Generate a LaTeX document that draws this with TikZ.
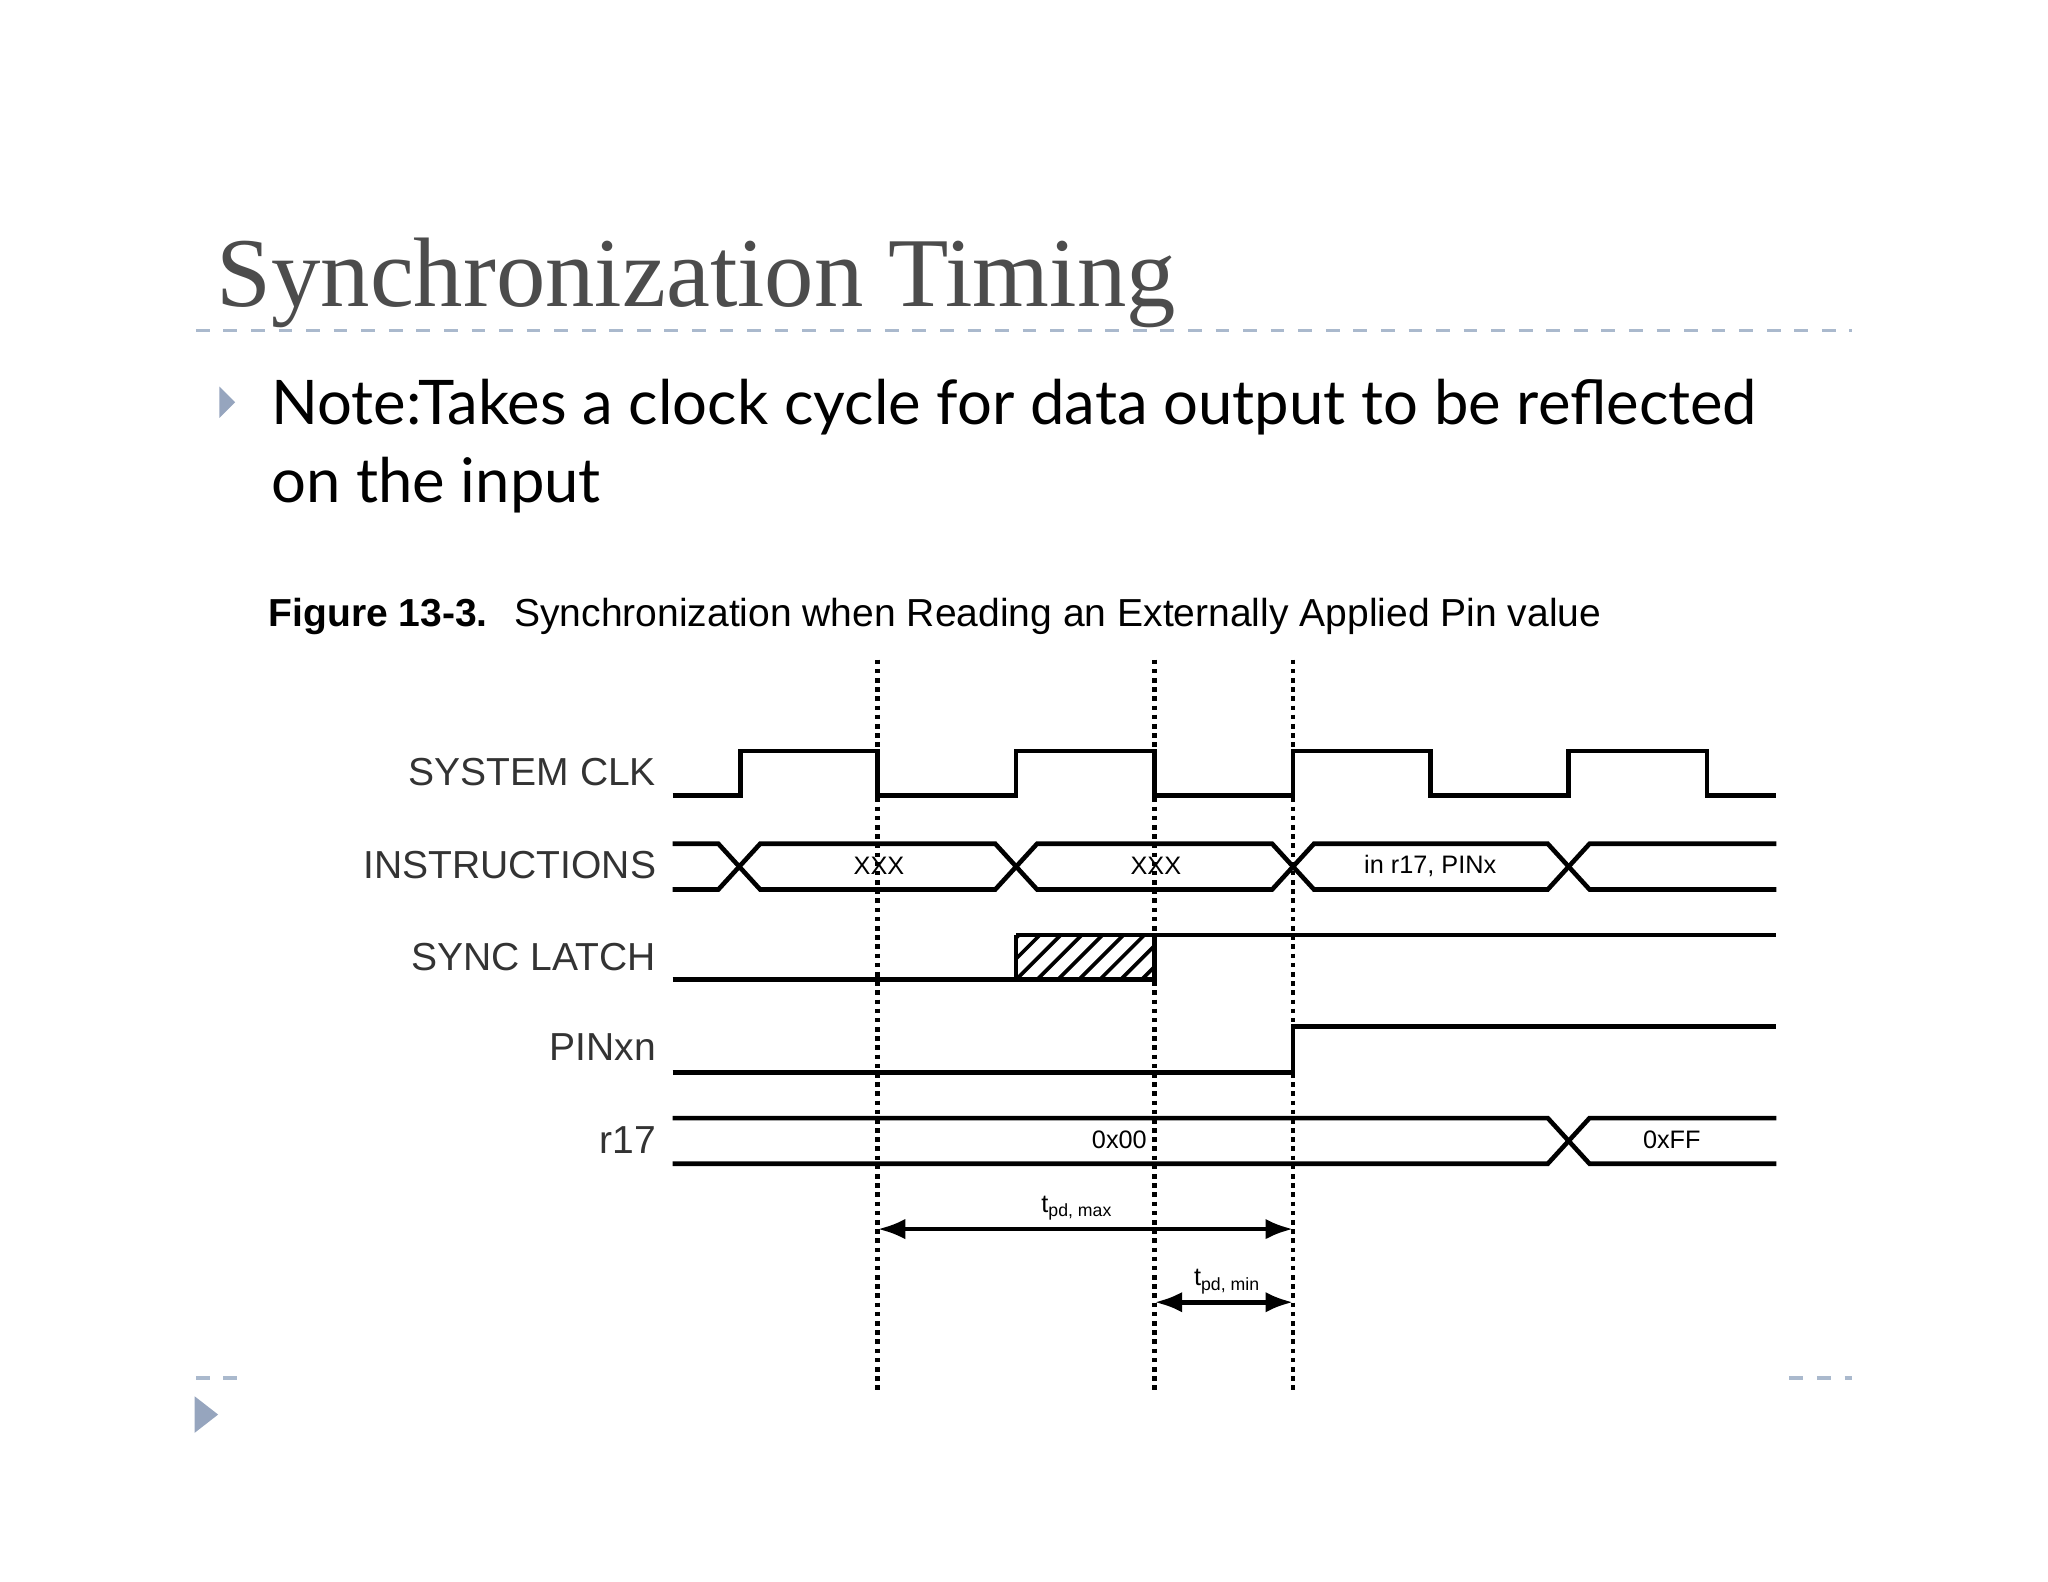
\documentclass[tikz,border=0pt]{standalone}
\usepackage{fontspec}
\setmainfont{Liberation Sans}
\newfontfamily\titlefont{Liberation Serif}
\newfontfamily\notefont{Lato}
\usetikzlibrary{arrows.meta}
\definecolor{rulegray}{RGB}{170,185,205}
\definecolor{bulletblue}{RGB}{150,165,190}
\tikzset{
  sig/.style={line width=1pt},
  sync/.style={line width=1pt, densely dotted},
  siglabel/.style={anchor=east, inner sep=0, font=\fontsize{8.5}{10}\selectfont, text=black!80},
  buslabel/.style={font=\fontsize{5.5}{6.5}\selectfont},
  dim/.style={line width=1pt, {Latex[length=6pt]}-{Latex[length=6pt]}}
}
\begin{document}
\begin{tikzpicture}[x=0.01cm, y=-0.01cm]
  \useasboundingbox (0,0) rectangle (1568,1211);
  % slide header
  \node[anchor=base west, inner sep=0, text=black!70, font=\titlefont\fontsize{21.5}{24}\selectfont] (title) at (165,235) {Synchronization Timing};
  \draw[rulegray, dashed, line width=0.8pt] (150,253) -- (1418,253);
  \fill[bulletblue] (168,296) -- (180,308) -- (168,320) -- cycle;
  \node[anchor=base west, inner sep=0, font=\notefont\fontsize{13.4}{16}\selectfont] (note) at (207,325) {Note:Takes a clock cycle for data output to be reflected};
  \node[anchor=base west, inner sep=0, font=\notefont\fontsize{13.4}{16}\selectfont] (note2) at (207,385) {on the input};
  \draw[rulegray, dashed, line width=0.8pt] (150,1055) -- (185,1055);
  \draw[rulegray, dashed, line width=0.8pt] (1370,1055) -- (1418,1055);
  \fill[bulletblue] (149,1069) -- (167,1083) -- (149,1097) -- cycle;
  % caption
  \node[anchor=base west, inner sep=0, font=\bfseries\fontsize{8.5}{10}\selectfont] (fig) at (205,480) {Figure 13-3.};
  \node[anchor=base west, inner sep=0, font=\fontsize{8.5}{10}\selectfont] (cap) at (393,480) {Synchronization when Reading an Externally Applied Pin value};
  % sync lines
  \foreach \x/\n in {672/a, 884/b, 990/c} {
    \coordinate (\n top) at (\x,505);
    \coordinate (\n bot) at (\x,1067);
    \draw[sync] (\n top) -- (\n bot);
  }
  % labels
  \node[siglabel] (clk) at (503,591) {SYSTEM CLK};
  \node[siglabel] (ins) at (503,662) {INSTRUCTIONS};
  \node[siglabel] (latch) at (503,733) {SYNC LATCH};
  \node[siglabel] (pin) at (503,802) {PINxn};
  \node[siglabel] (reg) at (503,873) {r17};
  % clock
  \draw[sig] (515,609) -- (567,609) -- (567,575) -- (672,575) -- (672,609) -- (778,609) -- (778,575)
    -- (884,575) -- (884,609) -- (990,609) -- (990,575) -- (1095,575) -- (1095,609) -- (1201,609)
    -- (1201,575) -- (1307,575) -- (1307,609) -- (1360,609);
  % instructions bus
  \draw[sig] (515,646) -- (550,646) -- (582,681) -- (762,681) -- (794,646) -- (974,646) -- (1006,681) -- (1185,681) -- (1217,646) -- (1360,646);
  \draw[sig] (515,681) -- (550,681) -- (582,646) -- (762,646) -- (794,681) -- (974,681) -- (1006,646) -- (1185,646) -- (1217,681) -- (1360,681);
  \node[buslabel] (i1) at (673,663) {XXX};
  \node[buslabel] (i2) at (885,663) {XXX};
  \node[buslabel] (i3) at (1095,663) {in r17, PINx};
  % sync latch
  \begin{scope}
    \clip (778,750) rectangle (884,716);
    \foreach \k in {-2,...,6}
      \draw[line width=0.8pt] ({778+\k*16},750) -- ({778+\k*16+34},716);
  \end{scope}
  \draw[sig] (778,716) -- (884,716);
  \draw[sig] (778,750) -- (778,716);
  \draw[sig] (515,750) -- (884,750) -- (884,716) -- (1360,716);
  % PINxn
  \draw[sig] (515,821) -- (990,821) -- (990,786) -- (1360,786);
  % r17 bus
  \draw[sig] (515,856) -- (1185,856) -- (1217,891) -- (1360,891);
  \draw[sig] (515,891) -- (1185,891) -- (1217,856) -- (1360,856);
  \node[buslabel] (r1) at (857,873) {0x00};
  \node[buslabel] (r2) at (1280,873) {0xFF};
  % timing arrows
  \coordinate (tmaxl) at (672,941);
  \coordinate (tmaxr) at (990,941);
  \coordinate (tminl) at (884,997);
  \coordinate (tminr) at (990,997);
  \draw[dim] (tmaxl) -- (tmaxr);
  \draw[dim] (tminl) -- (tminr);
  \node[buslabel] (tmax) at (825,925) {t\textsubscript{pd, max}};
  \node[buslabel] (tmin) at (940,981) {t\textsubscript{pd, min}};
\end{tikzpicture}
\end{document}
